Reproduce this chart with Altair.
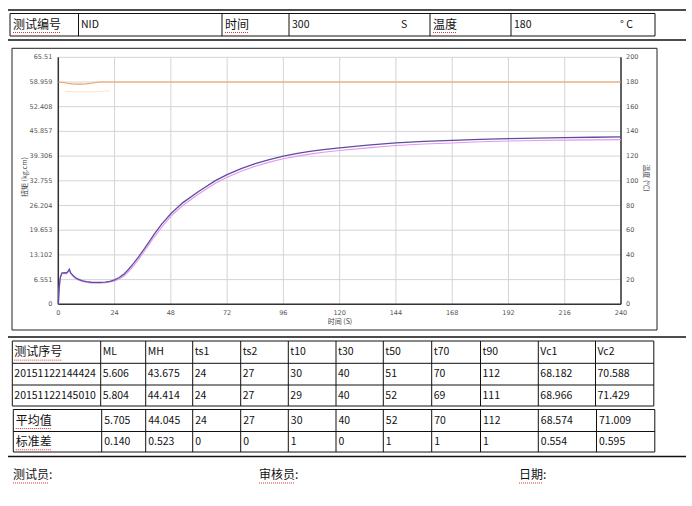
import altair as alt
import pandas as pd

# ---------------- data ----------------
time_s = [0, 0.4, 0.8, 1.5, 2.5, 3.5, 4.2, 4.7, 5.3, 6.5, 8, 10, 12, 14, 16, 18, 20, 22, 24,
          26, 28, 30, 32, 34, 36, 38, 41, 44, 48, 53, 60, 67, 72, 78, 84, 90, 96, 102, 108,
          114, 120, 132, 144, 156, 168, 180, 192, 204, 216, 228, 240]
torque_test2 = [0, 4.5, 7.0, 8.3, 8.4, 8.3, 8.8, 9.3, 8.3, 7.5, 6.8, 6.3, 6.0, 5.85, 5.8, 5.82,
                5.9, 6.1, 6.5, 7.1, 8.0, 9.3, 10.8, 12.4, 14.1, 15.9, 18.7, 21.2, 24.0, 26.9,
                30.0, 32.8, 34.4, 36.0, 37.3, 38.4, 39.3, 40.0, 40.6, 41.1, 41.5, 42.2, 42.8,
                43.2, 43.5, 43.75, 43.95, 44.1, 44.2, 44.3, 44.4]
torque_test1 = [0, 4.3, 6.8, 8.1, 8.2, 8.1, 8.6, 9.1, 8.1, 7.3, 6.6, 6.1, 5.8, 5.65, 5.61, 5.62,
                5.7, 5.9, 6.2, 6.7, 7.5, 8.7, 10.1, 11.7, 13.4, 15.2, 17.9, 20.4, 23.3, 26.2,
                29.3, 32.1, 33.7, 35.3, 36.6, 37.7, 38.6, 39.3, 39.9, 40.4, 40.8, 41.5, 42.1,
                42.5, 42.8, 43.1, 43.3, 43.45, 43.55, 43.62, 43.675]
temp_time = [0, 2, 4, 6, 8, 10, 12, 14, 16, 18, 20, 240]
temp_value = [180, 179.6, 179.0, 178.5, 178.3, 178.3, 178.5, 179.0, 179.6, 180, 180, 180]
temp2_time = [3, 8, 13, 18, 22]
temp2_value = [172.5, 172.0, 172.0, 172.3, 172.8]

x_ticks = [0, 24, 48, 72, 96, 120, 144, 168, 192, 216, 240]
left_ticks = [0, 6.551, 13.102, 19.653, 26.204, 32.755, 39.306, 45.857, 52.408, 58.959, 65.51]
left_tick_labels = ["0", "6.551", "13.102", "19.653", "26.204", "32.755", "39.306",
                    "45.857", "52.408", "58.959", "65.51"]
right_ticks = [0, 20, 40, 60, 80, 100, 120, 140, 160, 180, 200]

header_labels = ["测试编号", "NID", "时间", "300", "S", "温度", "180", "° C"]
table_columns = ["测试序号", "ML", "MH", "ts1", "ts2", "t10", "t30", "t50", "t70", "t90", "Vc1", "Vc2"]
test_rows = [
    ["20151122144424", "5.606", "43.675", "24", "27", "30", "40", "51", "70", "112", "68.182", "70.588"],
    ["20151122145010", "5.804", "44.414", "24", "27", "29", "40", "52", "69", "111", "68.966", "71.429"],
]
summary_rows = [
    ["平均值", "5.705", "44.045", "24", "27", "30", "40", "52", "70", "112", "68.574", "71.009"],
    ["标准差", "0.140", "0.523", "0", "0", "1", "0", "1", "1", "1", "0.554", "0.595"],
]
footer_labels = ["测试员:", "审核员:", "日期:"]

# ---------------- layout ----------------
W, H = 692, 506
CJK = "Noto Sans CJK SC"
PX = [58.3, 621.0]
PY = [304.3, 57.3]

xs = alt.Scale(domain=[0, 240], range=PX, nice=False, zero=False)
yl = alt.Scale(domain=[0, 65.51], range=PY, nice=False, zero=False)
yr = alt.Scale(domain=[0, 200], range=PY, nice=False, zero=False)


def is_cjk(s):
    return any(ord(c) > 0x2E80 for c in s)


def n_cjk(s):
    return sum(1 for c in s if ord(c) > 0x2E80)


layers = []


def px_rules(segs, color="#111", width=1.0, dash=None):
    df = pd.DataFrame(segs, columns=["x", "y", "x2", "y2"])
    kw = dict(color=color, strokeWidth=width)
    if dash:
        kw["strokeDash"] = dash
    layers.append(
        alt.Chart(df).mark_rule(**kw).encode(
            x=alt.X("x:Q", scale=None), y=alt.Y("y:Q", scale=None),
            x2="x2:Q", y2="y2:Q")
    )


texts_cjk, texts_lat, squiggles = [], [], []


def put_text(x, y, s):
    if is_cjk(s):
        texts_cjk.append((x, y, s))
        squiggles.append((x, y + 8, x + 12 * n_cjk(s), y + 8))
    else:
        texts_lat.append((x, y, s))


# long separator lines
px_rules([(8, 10, 686, 10), (8, 40, 686, 40)], width=1.5)
px_rules([(8, 337, 686, 337), (8, 456.5, 686, 456.5)], width=1.6)

# header box
hx = [10, 78.5, 222, 289, 430, 511, 655]
hy = [13.5, 36]
segs = [(hx[0], y, hx[-1], y) for y in hy] + [(x, hy[0], x, hy[1]) for x in hx]
px_rules(segs, width=1)
header_pos = [13, 81, 225, 292, 401, 433, 514, 620]
for xp, s in zip(header_pos, header_labels):
    put_text(xp, 24.5, s)

# chart frame
px_rules([(12, 48.3, 657, 48.3), (12, 330, 657, 330), (12, 48.3, 12, 330), (657, 48.3, 657, 330)],
         color="#222", width=1)

# data tables
cx = [12.3, 100.7, 145.7, 192.7, 240.7, 288.3, 336, 383.3, 431.7, 480.5, 538.3, 595.5, 653.8]
ry1 = [341, 363.3, 385, 406]
ry2 = [409.5, 431.5, 452]
segs = [(cx[0], y, cx[-1], y) for y in ry1] + [(x, ry1[0], x, ry1[-1]) for x in cx]
shift = [1 if i in (0, 1, 11, 12) else 0 for i in range(len(cx))]
segs += [(cx[0] + 1, y, cx[-1] + 1, y) for y in ry2] + \
        [(x + s, ry2[0], x + s, ry2[-1]) for x, s in zip(cx, shift)]
px_rules(segs, width=1)

rows1 = [table_columns] + test_rows
for r, row in enumerate(rows1):
    yc = (ry1[r] + ry1[r + 1]) / 2
    for c, s in enumerate(row):
        put_text(cx[c] + 2, yc, s)
for r, row in enumerate(summary_rows):
    yc = (ry2[r] + ry2[r + 1]) / 2
    for c, s in enumerate(row):
        put_text(cx[c] + 2.5 + shift[c], yc, s)

# footer
for xp, s in zip([13, 259, 519], footer_labels):
    put_text(xp, 475, s)

# ---------------- chart plot layers ----------------
grid_v = pd.DataFrame({"t": x_ticks, "lo": 0.0, "hi": 65.51})
grid_h = pd.DataFrame({"v": left_ticks, "a": 0, "b": 240})
layers.append(alt.Chart(grid_v).mark_rule(color="#d4d4d4", strokeWidth=1).encode(
    x=alt.X("t:Q", scale=xs, axis=None), y=alt.Y("lo:Q", scale=yl, axis=None), y2="hi:Q"))
layers.append(alt.Chart(grid_h).mark_rule(color="#d4d4d4", strokeWidth=1).encode(
    x=alt.X("a:Q", scale=xs, axis=None), x2="b:Q", y=alt.Y("v:Q", scale=yl, axis=None)))

# axis lines
ax_v = pd.DataFrame({"t": [0, 240], "lo": 0.0, "hi": 65.51})
layers.append(alt.Chart(ax_v).mark_rule(color="#333", strokeWidth=1.5).encode(
    x=alt.X("t:Q", scale=xs, axis=None), y=alt.Y("lo:Q", scale=yl, axis=None), y2="hi:Q"))
ax_h = pd.DataFrame({"v": [0], "a": 0, "b": 240})
layers.append(alt.Chart(ax_h).mark_rule(color="#333", strokeWidth=1.5).encode(
    x=alt.X("a:Q", scale=xs, axis=None), x2="b:Q", y=alt.Y("v:Q", scale=yl, axis=None)))

# tick labels
lab_style = dict(font="DejaVu Sans", fontSize=6.5, color="#555", baseline="middle")
df_l = pd.DataFrame({"t": 0, "v": left_ticks, "lab": left_tick_labels})
layers.append(alt.Chart(df_l).mark_text(align="right", dx=-6, **lab_style).encode(
    x=alt.X("t:Q", scale=xs, axis=None), y=alt.Y("v:Q", scale=yl, axis=None), text="lab:N"))
df_r = pd.DataFrame({"t": 240, "v": right_ticks, "lab": [str(v) for v in right_ticks]})
layers.append(alt.Chart(df_r).mark_text(align="left", dx=5, **lab_style).encode(
    x=alt.X("t:Q", scale=xs, axis=None), y=alt.Y("v:Q", scale=yr, axis=None), text="lab:N"))
df_x = pd.DataFrame({"t": x_ticks, "v": 0, "lab": [str(t) for t in x_ticks]})
layers.append(alt.Chart(df_x).mark_text(align="center", dy=9, **lab_style).encode(
    x=alt.X("t:Q", scale=xs, axis=None), y=alt.Y("v:Q", scale=yl, axis=None), text="lab:N"))

# axis titles
title_style = dict(font=CJK, fontSize=7, color="#444", baseline="middle", align="center")
layers.append(alt.Chart(pd.DataFrame({"x": [25], "y": [177], "s": ["扭矩 (kg.cm)"]}))
              .mark_text(angle=270, **title_style).encode(
    x=alt.X("x:Q", scale=None), y=alt.Y("y:Q", scale=None), text="s:N"))
layers.append(alt.Chart(pd.DataFrame({"x": [646], "y": [178], "s": ["温度 (℃)"]}))
              .mark_text(angle=90, **title_style).encode(
    x=alt.X("x:Q", scale=None), y=alt.Y("y:Q", scale=None), text="s:N"))
layers.append(alt.Chart(pd.DataFrame({"x": [340], "y": [322], "s": ["时间 (S)"]}))
              .mark_text(**title_style).encode(
    x=alt.X("x:Q", scale=None), y=alt.Y("y:Q", scale=None), text="s:N"))

# temperature lines
df_t2 = pd.DataFrame({"t": temp2_time, "v": temp2_value})
layers.append(alt.Chart(df_t2).mark_line(color="#fbe3cf", strokeWidth=1).encode(
    x=alt.X("t:Q", scale=xs, axis=None), y=alt.Y("v:Q", scale=yr, axis=None)))
df_t = pd.DataFrame({"t": temp_time, "v": temp_value})
layers.append(alt.Chart(df_t).mark_line(color="#f0a060", strokeWidth=1.2).encode(
    x=alt.X("t:Q", scale=xs, axis=None), y=alt.Y("v:Q", scale=yr, axis=None)))

# torque lines
df_1 = pd.DataFrame({"t": time_s, "v": torque_test1})
layers.append(alt.Chart(df_1).mark_line(color="#e696f2", strokeWidth=1.1).encode(
    x=alt.X("t:Q", scale=xs, axis=None), y=alt.Y("v:Q", scale=yl, axis=None)))
df_2 = pd.DataFrame({"t": time_s, "v": torque_test2})
layers.append(alt.Chart(df_2).mark_line(color="#5c4e9e", strokeWidth=1.3).encode(
    x=alt.X("t:Q", scale=xs, axis=None), y=alt.Y("v:Q", scale=yl, axis=None)))

# ---------------- table texts ----------------
px_rules(squiggles, color="#d33", width=1, dash=[1, 1])
layers.append(alt.Chart(pd.DataFrame(texts_cjk, columns=["x", "y", "s"])).mark_text(
    font=CJK, fontSize=12, color="#111", align="left", baseline="middle").encode(
    x=alt.X("x:Q", scale=None), y=alt.Y("y:Q", scale=None), text="s:N"))
layers.append(alt.Chart(pd.DataFrame(texts_lat, columns=["x", "y", "s"])).mark_text(
    font=CJK, fontSize=10.5, color="#111", align="left", baseline="middle").encode(
    x=alt.X("x:Q", scale=None), y=alt.Y("y:Q", scale=None), text="s:N"))

chart = alt.layer(*layers).resolve_scale(x="independent", y="independent").properties(
    width=W, height=H, autosize=alt.AutoSizeParams(type="none"), padding=0,
    background="white"
).configure_view(stroke=None)

chart.save("out.html", embed_options={"renderer": "svg", "actions": False})
